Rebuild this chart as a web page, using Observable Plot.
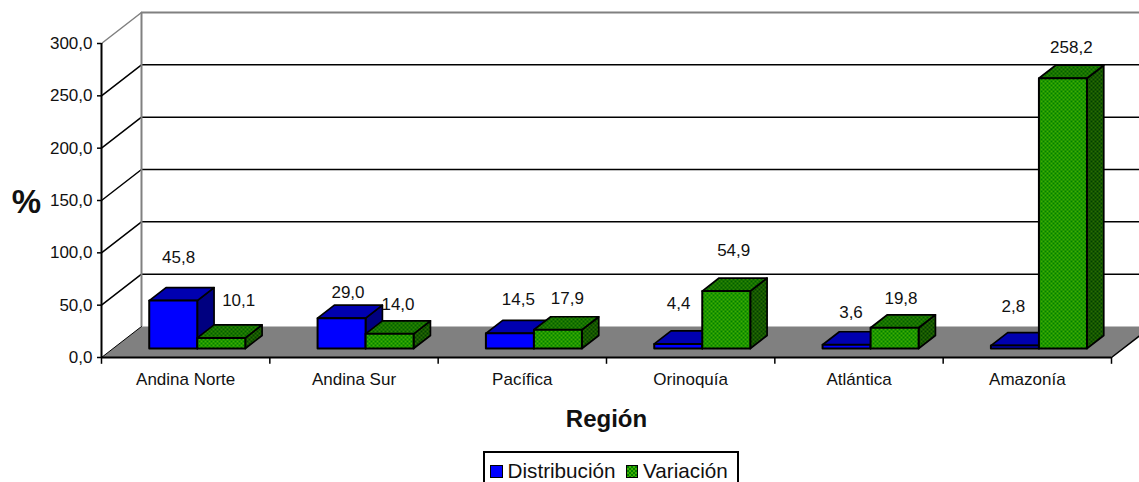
<!DOCTYPE html>
<html>
<head>
<meta charset="utf-8">
<script src="https://cdn.jsdelivr.net/npm/d3@7"></script>
<script src="https://cdn.jsdelivr.net/npm/@observablehq/plot@0.6"></script>
<style>
html,body{margin:0;padding:0;background:#fff;overflow:hidden;height:482px;width:1139px}
#legend{position:relative;margin-left:483px;width:247px;height:40px;border:2px solid #000;box-sizing:content-box;font:20.7px "Liberation Sans",Arial,sans-serif;color:#111;display:flex;align-items:flex-start;padding-top:7px;padding-left:5px;gap:0;white-space:nowrap;line-height:22px}
.sw{display:inline-block;width:10.5px;height:10.5px;border:1.5px solid #000;margin:5px 5px 0 0}
</style>
</head>
<body>
<div id="chart"></div>
<script>
const categories = ["Andina Norte","Andina Sur","Pacífica","Orinoquía","Atlántica","Amazonía"];
const distribucion = [45.8,29.0,14.5,4.4,3.6,2.8];
const variacion = [10.1,14.0,17.9,54.9,19.8,258.2];
const yTicks = [0,50,100,150,200,250,300];
const seriesNames = ["Distribución","Variación"];

// label nudges from the top-centre of each bar, pixels
const nudgeBlue = [[-3,-30],[-2,-13],[0,-21],[-8,-27],[-4,-19],[-10,-26]];
const nudgeGreen = [[9,-24],[0,-16],[1,-18],[-1,-27.5],[-2,-16],[0,-18]];

const DX = 0.2376, DY = 29.6;             // oblique projection of full depth, data units
const GAP = 0.2147, BAR = 0.2853;         // bar layout within one category
const D0 = 0.29, D1 = 0.71;               // depth span of bars
const p = (x, y, d) => ({x: x + d * DX, y: y + d * DY});
const fmt = v => v.toFixed(1).replace(".", ",");
const FONT = "Liberation Sans, Arial, sans-serif";

function faces(values, slot) {
  const front = [], top = [], side = [];
  values.forEach((v, i) => {
    const a = i + GAP + slot * BAR, b = a + BAR;
    const add = (arr, pts) => [...pts, pts[0]].forEach(q => arr.push({...q, z: i}));
    add(front, [p(a,0,D0), p(b,0,D0), p(b,v,D0), p(a,v,D0)]);
    add(top,   [p(a,v,D0), p(b,v,D0), p(b,v,D1), p(a,v,D1)]);
    add(side,  [p(b,0,D0), p(b,0,D1), p(b,v,D1), p(b,v,D0)]);
  });
  return {front, top, side};
}
const faceMarks = (f, fills) => [
  Plot.line(f.side,  {x:"x", y:"y", z:"z", fill:fills[2], stroke:"#000", strokeWidth:1.7, curve:"linear"}),
  Plot.line(f.top,   {x:"x", y:"y", z:"z", fill:fills[1], stroke:"#000", strokeWidth:1.7, curve:"linear"}),
  Plot.line(f.front, {x:"x", y:"y", z:"z", fill:fills[0], stroke:"#000", strokeWidth:2, curve:"linear"})
];
function barMarks(slot, values, fills) {
  return faceMarks(faces(values, slot), fills);
}

function pattern(id, c1, c2) {
  const svgns = "http://www.w3.org/2000/svg";
  const pat = document.createElementNS(svgns, "pattern");
  pat.setAttribute("id", id); pat.setAttribute("width", 4); pat.setAttribute("height", 4);
  pat.setAttribute("patternUnits", "userSpaceOnUse");
  [[0,0,c1],[2,0,c2],[0,2,c2],[2,2,c1]].forEach(([x,y,c]) => {
    const r = document.createElementNS(svgns, "rect");
    r.setAttribute("x", x); r.setAttribute("y", y); r.setAttribute("width", 2); r.setAttribute("height", 2); r.setAttribute("fill", c);
    pat.appendChild(r);
  });
  return pat;
}
const defsMark = () => {
  const d = document.createElementNS("http://www.w3.org/2000/svg", "defs");
  d.appendChild(pattern("gFront", "#40ad00", "#008000"));
  d.appendChild(pattern("gTop", "#2e8500", "#006000"));
  d.appendChild(pattern("gSide", "#2a6b00", "#004000"));
  return d;
};

const floor = [p(0,0,0), p(6,0,0), p(6,0,1), p(0,0,1), p(0,0,0)];
const gridBack = yTicks.slice(1).map(t => ({t}));
const wallDiag = yTicks.flatMap(t => [{...p(0,t,0), z:t}, {...p(0,t,1), z:t}]);
const labelText = (v, cx, n) => Plot.text([v], {
  x: () => cx + 0.5*DX, y: () => v + D1*DY,
  text: d => fmt(d), dx: n[0], dy: n[1],
  fontSize: 17, fontFamily: FONT, fill: "#111"});
const blueLabels = distribucion.map((v,i) => labelText(v, i + GAP + BAR/2, nudgeBlue[i]));
const greenLabels = variacion.map((v,i) => labelText(v, i + GAP + 1.5*BAR, nudgeGreen[i]));

const chart = Plot.plot({
  width: 1139, height: 451,
  marginLeft: 0, marginRight: 0, marginTop: 0, marginBottom: 0,
  style: {background: "#fff", fontFamily: FONT, overflow: "hidden"},
  x: {type: "linear", domain: [0,6], range: [101,1111], axis: null},
  y: {type: "linear", domain: [0,300], range: [357,43]},
  marks: [
    defsMark,
    Plot.line(floor, {x:"x", y:"y", fill:"#808080", stroke:"none"}),
    // side-wall diagonals and back-wall gridlines
    Plot.line(wallDiag.filter(d => d.z !== 300 && d.z !== 0), {x:"x", y:"y", z:"z", stroke:"#000", strokeWidth:1.5}),
    Plot.line(wallDiag.filter(d => d.z === 300), {x:"x", y:"y", z:"z", stroke:"#808080", strokeWidth:1.5}),
    Plot.line(wallDiag.filter(d => d.z === 0), {x:"x", y:"y", z:"z", stroke:"#000", strokeWidth:1}),
    Plot.ruleY(gridBack.filter(d => d.t < 300), {x1: DX, x2: 6+DX, y: d => d.t + DY, stroke:"#000", strokeWidth:1.5}),
    Plot.ruleY(gridBack.filter(d => d.t === 300), {x1: DX, x2: 6+DX, y: d => d.t + DY, stroke:"#808080", strokeWidth:2}),
    Plot.ruleX([DX], {y1: DY, y2: 300+DY, stroke:"#808080", strokeWidth:2}),
    Plot.line([p(6,0,0), p(6,0,1)], {x:"x", y:"y", stroke:"#000", strokeWidth:1.5}),
    // bars
    ...barMarks(0, distribucion, ["#0000ff","#0000b0","#000080"]),
    ...barMarks(1, variacion, ["url(#gFront)","url(#gTop)","url(#gSide)"]),
    // axes
    Plot.ruleX([0], {y1:0, y2:300, stroke:"#000", strokeWidth:2}),
    Plot.ruleY([0], {x1:0, x2:6, stroke:"#000", strokeWidth:2}),
    Plot.ruleX(d3.range(0,7), {y1:0, y2:-6.5, stroke:"#000", strokeWidth:1.5}),
    Plot.axisY({ticks: yTicks, tickFormat: fmt, tickSize: 4, tickPadding: 5, anchor:"left", x:0, label:null, fontSize:17, stroke:"#000", strokeWidth:1.5, color:"#111"}),
    Plot.text(categories, {x:(d,i)=>i+0.5, y:0, text:d=>d, dy:22, fontSize:17, fontFamily:FONT, fill:"#111"}),
    ...blueLabels, ...greenLabels,
    Plot.text(["Región"], {x:()=>3, y:0, dy:62, fontSize:24, fontWeight:"bold", fontFamily:FONT, fill:"#111"}),
    Plot.text(["%"], {x:()=>0, y:()=>150, dx:-75, dy:2, fontSize:33, fontWeight:"bold", fontFamily:FONT, fill:"#111"})
  ]
});
document.getElementById("chart").appendChild(chart);

const legend = document.createElement("div");
legend.id = "legend";
legend.innerHTML = `<span class="sw" style="background:#0000ff"></span><span>${seriesNames[0]}</span>
<span class="sw" style="margin-left:10px;background:repeating-conic-gradient(#40ad00 0 25%,#008000 0 50%) 0 0/4px 4px"></span><span>${seriesNames[1]}</span>`;
document.body.appendChild(legend);
</script>
</body>
</html>
